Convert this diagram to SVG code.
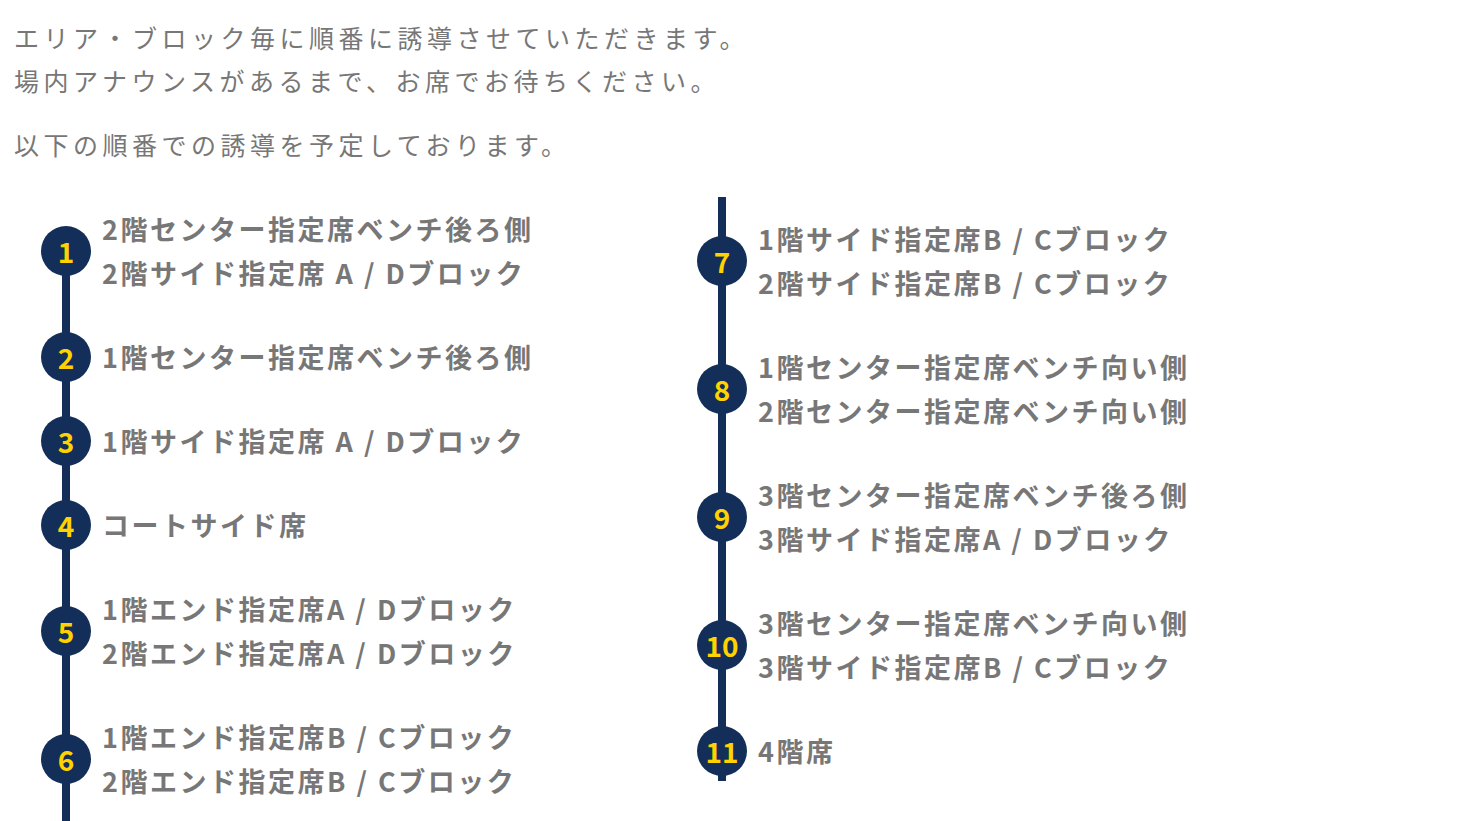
<svg xmlns="http://www.w3.org/2000/svg" width="1460" height="821" viewBox="0 0 1460 821">
<style>
.h{font-family:"Noto Sans CJK JP","Noto Sans",sans-serif;font-size:25px;fill:#777;letter-spacing:4.5px;dominant-baseline:central}
.t{font-family:"Noto Sans CJK JP","Noto Sans",sans-serif;font-size:27px;font-weight:700;fill:#777;letter-spacing:2.5px;dominant-baseline:central}
.c{fill:#132f59}
.n{font-family:"Noto Sans CJK JP","Noto Sans",sans-serif;font-size:28px;font-weight:700;fill:#ffd200;text-anchor:middle;dominant-baseline:central}
.ln{stroke:#132f59;stroke-width:8}
</style>
<rect width="1460" height="821" fill="#fff"/>
<g id="header">
<text class="h" x="14" y="37">エリア・ブロック毎に順番に誘導させていただきます。</text>
<text class="h" x="14" y="80">場内アナウンスがあるまで、お席でお待ちください。</text>
<text class="h" x="14" y="144">以下の順番での誘導を予定しております。</text>
</g>
<g id="connectors">
<line class="ln" x1="66" y1="251" x2="66" y2="821"/>
<line class="ln" x1="722" y1="197" x2="722" y2="781"/>
</g>
<g id="n1"><circle class="c" cx="66" cy="251" r="25"/><text class="n" x="66" y="251">1</text>
<text class="t" x="102" y="228">2階センター指定席ベンチ後ろ側</text><text class="t" x="102" y="272">2階サイド指定席 A / Dブロック</text></g>
<g id="n2"><circle class="c" cx="66" cy="357" r="25"/><text class="n" x="66" y="357">2</text>
<text class="t" x="102" y="356">1階センター指定席ベンチ後ろ側</text></g>
<g id="n3"><circle class="c" cx="66" cy="441" r="25"/><text class="n" x="66" y="441">3</text>
<text class="t" x="102" y="440">1階サイド指定席 A / Dブロック</text></g>
<g id="n4"><circle class="c" cx="66" cy="525" r="25"/><text class="n" x="66" y="525">4</text>
<text class="t" x="102" y="524">コートサイド席</text></g>
<g id="n5"><circle class="c" cx="66" cy="631" r="25"/><text class="n" x="66" y="631">5</text>
<text class="t" x="102" y="608">1階エンド指定席A / Dブロック</text><text class="t" x="102" y="652">2階エンド指定席A / Dブロック</text></g>
<g id="n6"><circle class="c" cx="66" cy="759" r="25"/><text class="n" x="66" y="759">6</text>
<text class="t" x="102" y="736">1階エンド指定席B / Cブロック</text><text class="t" x="102" y="780">2階エンド指定席B / Cブロック</text></g>
<g id="n7"><circle class="c" cx="722" cy="261" r="25"/><text class="n" x="722" y="261">7</text>
<text class="t" x="758" y="238">1階サイド指定席B / Cブロック</text><text class="t" x="758" y="282">2階サイド指定席B / Cブロック</text></g>
<g id="n8"><circle class="c" cx="722" cy="389" r="25"/><text class="n" x="722" y="389">8</text>
<text class="t" x="758" y="366">1階センター指定席ベンチ向い側</text><text class="t" x="758" y="410">2階センター指定席ベンチ向い側</text></g>
<g id="n9"><circle class="c" cx="722" cy="517" r="25"/><text class="n" x="722" y="517">9</text>
<text class="t" x="758" y="494">3階センター指定席ベンチ後ろ側</text><text class="t" x="758" y="538">3階サイド指定席A / Dブロック</text></g>
<g id="n10"><circle class="c" cx="722" cy="645" r="25"/><text class="n" x="722" y="645">10</text>
<text class="t" x="758" y="622">3階センター指定席ベンチ向い側</text><text class="t" x="758" y="666">3階サイド指定席B / Cブロック</text></g>
<g id="n11"><circle class="c" cx="722" cy="751" r="25"/><text class="n" x="722" y="751">11</text>
<text class="t" x="758" y="750">4階席</text></g>
</svg>
